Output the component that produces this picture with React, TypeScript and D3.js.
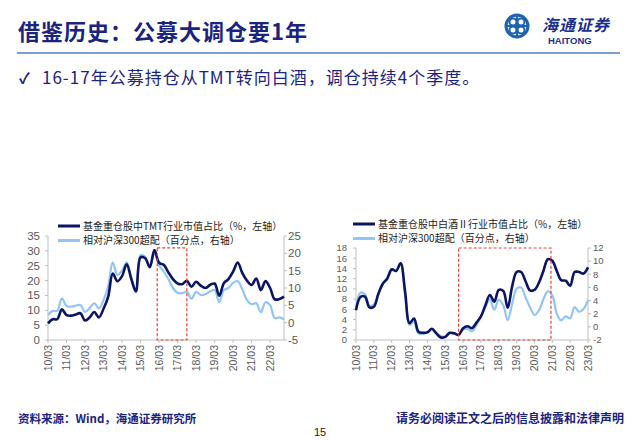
import React from "react";
import * as d3 from "d3";

// ---------- DATA ----------
const tmtYearLabels = ["10/03","11/03","12/03","13/03","14/03","15/03","16/03","17/03","18/03","19/03","20/03","21/03","22/03"];
const tmtShare = [5.6,7.0,7.0,10.3,8.4,8.2,8.6,9.0,6.6,7.6,9.4,7.6,10.5,14.5,22.4,19.8,21.5,25.5,20.5,16.3,27.8,27.5,24.5,30.3,26.0,25.3,22.8,20.5,19.0,18.8,19.9,17.9,19.6,18.3,17.5,18.5,19.0,14.9,19.1,20.5,23.0,26.1,22.5,20.0,18.5,20.7,16.8,19.8,17.5,13.7,13.8,14.6];
const tmtOver = [2.2,3.4,3.4,7.0,4.8,4.6,4.9,5.1,3.1,4.2,5.6,4.1,6.5,10.5,17.4,13.8,15.0,17.4,13.0,9.4,19.5,19.0,16.3,20.0,16.5,14.8,12.6,10.0,8.6,8.5,8.9,6.9,8.9,8.0,8.2,9.0,9.4,5.9,9.4,10.0,11.5,12.0,9.6,6.5,5.3,5.6,3.0,5.9,5.0,1.3,1.5,1.0];
const tmtLeftTicks = [0,5,10,15,20,25,30,35];
const tmtRightTicks = [-5,0,5,10,15,20,25];

const liqYearLabels = ["10/03","11/03","12/03","13/03","14/03","15/03","16/03","17/03","18/03","19/03","20/03","21/03","22/03","23/03"];
const liqShare = [5.8,8.4,8.5,6.4,6.5,9.0,11.0,12.0,13.8,13.5,15.0,9.5,3.3,4.2,1.6,1.4,1.5,2.2,1.3,0.5,0.6,1.4,1.3,1.0,2.3,2.7,2.3,3.4,4.6,6.8,8.8,7.5,9.8,9.6,6.3,10.5,13.3,13.3,11.5,9.7,9.8,11.2,13.5,15.8,15.5,13.5,11.7,11.6,10.6,13.3,13.3,13.0,14.2];
const liqOver = [2.8,5.2,5.0,3.2,3.4,5.0,6.5,7.5,8.8,8.6,9.7,5.0,0.3,0.8,-1.0,-1.0,-0.8,-0.4,-0.9,-1.4,-1.5,-1.0,-1.0,-1.2,-0.4,-0.3,-0.7,0.3,1.5,3.0,4.2,2.6,4.1,3.3,1.0,3.5,5.8,6.0,4.5,3.0,1.8,2.5,4.2,5.4,4.8,2.0,1.0,1.6,1.3,3.0,2.3,2.7,4.1];
const liqLeftTicks = [0,2,4,6,8,10,12,14,16,18];
const liqRightTicks = [-2,0,2,4,6,8,10,12];

const tmtLegend = ["基金重仓股中TMT行业市值占比（%，左轴）", "相对沪深300超配（百分点，右轴）"];
const liqLegend = ["基金重仓股中白酒Ⅱ行业市值占比（%，左轴）", "相对沪深300超配（百分点，右轴）"];

const NAVY = "#0c1464";
const LIGHT = "#93c5f2";
const AXIS = "#bfbfbf";
const TICKTXT = "#595959";
const CJK = "'Noto Sans CJK SC', 'Liberation Sans', sans-serif";
const ARIAL = "'Liberation Sans', Arial, sans-serif";

type ChartProps = {
  x0: number; x1: number; yTop: number; yBot: number;
  labels: string[]; share: number[]; over: number[];
  leftTicks: number[]; rightTicks: number[];
  box: [number, number, number];
  legend: string[]; legX: number; legY: number; legGap: number;
  leftLabelX: number; rightLabelX: number; tickFont: number;
};

function Chart(p: ChartProps) {
  const n = p.share.length;
  const x = d3.scaleLinear().domain([0, n - 1]).range([p.x0, p.x1]);
  const yL = d3.scaleLinear().domain([p.leftTicks[0], p.leftTicks[p.leftTicks.length - 1]]).range([p.yBot, p.yTop]);
  const yR = d3.scaleLinear().domain([p.rightTicks[0], p.rightTicks[p.rightTicks.length - 1]]).range([p.yBot, p.yTop]);
  const lineL = d3.line<number>().x((_, i) => x(i)).y(d => yL(d)).curve(d3.curveCatmullRom.alpha(0.5));
  const lineR = d3.line<number>().x((_, i) => x(i)).y(d => yR(d)).curve(d3.curveCatmullRom.alpha(0.5));
  const bx0 = x(p.box[0]), bx1 = x(p.box[1]), by = yL(p.box[2]);
  const off = p.tickFont * 0.35;
  return (
    <g>
      <line x1={p.x0} x2={p.x0} y1={p.yTop} y2={p.yBot} stroke={AXIS} />
      <line x1={p.x1} x2={p.x1} y1={p.yTop} y2={p.yBot} stroke={AXIS} />
      <line x1={p.x0} x2={p.x1} y1={p.yBot} y2={p.yBot} stroke={AXIS} />
      {p.leftTicks.map(t => (
        <g key={"l" + t}>
          <line x1={p.x0 - 3} x2={p.x0} y1={yL(t)} y2={yL(t)} stroke={AXIS} />
          <text x={p.leftLabelX} y={yL(t) + off} textAnchor="end" fontSize={p.tickFont} fill={TICKTXT} fontFamily={ARIAL}>{t}</text>
        </g>
      ))}
      {p.rightTicks.map(t => (
        <g key={"r" + t}>
          <line x1={p.x1} x2={p.x1 + 3} y1={yR(t)} y2={yR(t)} stroke={AXIS} />
          <text x={p.rightLabelX} y={yR(t) + off} textAnchor="start" fontSize={p.tickFont} fill={TICKTXT} fontFamily={ARIAL}>{t < 0 ? "-" + Math.abs(t) : t}</text>
        </g>
      ))}
      {p.labels.map((lab, k) => {
        const xi = x(k * 4);
        return (
          <g key={lab}>
            <line x1={xi} x2={xi} y1={p.yBot} y2={p.yBot + 3} stroke={AXIS} />
            <text transform={`translate(${xi + 3.5},${p.yBot + 5}) rotate(-90)`} textAnchor="end" fontSize={10.5} fill={TICKTXT} fontFamily={ARIAL}>{lab}</text>
          </g>
        );
      })}
      <path d={lineR(p.over) || ""} fill="none" stroke={LIGHT} strokeWidth={2.2} />
      <path d={lineL(p.share) || ""} fill="none" stroke={NAVY} strokeWidth={2.6} />
      <rect x={bx0} y={by} width={bx1 - bx0} height={p.yBot - by} fill="none" stroke="#e8403a" strokeWidth={1.2} strokeDasharray="3,2" />
      <line x1={p.legX} x2={p.legX + 22} y1={p.legY} y2={p.legY} stroke={NAVY} strokeWidth={3} />
      <text x={p.legX + 25} y={p.legY + 3.5} fontSize={10} fill="#222" fontFamily={CJK}>{p.legend[0]}</text>
      <line x1={p.legX} x2={p.legX + 22} y1={p.legY + p.legGap} y2={p.legY + p.legGap} stroke={LIGHT} strokeWidth={3} />
      <text x={p.legX + 25} y={p.legY + p.legGap + 3.5} fontSize={10} fill="#222" fontFamily={CJK}>{p.legend[1]}</text>
    </g>
  );
}

function Logo() {
  const cx = 517, cy = 26, r = 11;
  const c = "#1f63b0";
  return (
    <g>
      <circle cx={cx} cy={cy} r={r} fill="none" stroke={c} strokeWidth={3} />
      <circle cx={cx - 4} cy={cy - 4} r={3.5} fill="none" stroke={c} strokeWidth={2} />
      <circle cx={cx + 4} cy={cy - 4} r={3.5} fill="none" stroke={c} strokeWidth={2} />
      <circle cx={cx - 4} cy={cy + 4} r={3.5} fill="none" stroke={c} strokeWidth={2} />
      <circle cx={cx + 4} cy={cy + 4} r={3.5} fill="none" stroke={c} strokeWidth={2} />
      <line x1={cx - 11} x2={cx + 11} y1={cy} y2={cy} stroke={c} strokeWidth={2.2} />
      <line x1={cx} x2={cx} y1={cy - 11} y2={cy + 11} stroke={c} strokeWidth={2.2} />
      <text x={542} y={31} fontSize={16} fontStyle="italic" fontWeight="bold" fill="#1a2f8a" fontFamily={CJK} letterSpacing={1}>海通证券</text>
      <text x={548} y={44} fontSize={9.5} fontWeight="bold" fill="#1a2f8a" fontFamily={ARIAL}>HAITONG</text>
    </g>
  );
}

export default function App() {
  return (
    <svg width={640} height={441} style={{ position: "absolute", left: 0, top: 0, background: "#fff" }}>
      <rect width={640} height={441} fill="#fff" />
      <text x={18} y={40} fontSize={22} fontWeight="bold" fill="#1a237e" fontFamily={CJK} letterSpacing={1}>借鉴历史：公募大调仓要1年</text>
      <Logo />
      <line x1={17} x2={620} y1={53} y2={53} stroke="#4a7fc0" strokeWidth={1.5} />
      <text x={19} y={84} fontSize={15} fontWeight="bold" fill="#1a237e" fontFamily={CJK}>✓</text>
      <text x={42} y={84} fontSize={17} fill="#1a237e" fontFamily={CJK} letterSpacing={1}>16-17年公募持仓从TMT转向白酒，调仓持续4个季度。</text>

      <Chart x0={48} x1={284} yTop={236} yBot={340} labels={tmtYearLabels} share={tmtShare} over={tmtOver}
        leftTicks={tmtLeftTicks} rightTicks={tmtRightTicks} box={[23.6, 30, 31]}
        legend={tmtLegend} legX={58} legY={226} legGap={14.5} leftLabelX={40} rightLabelX={288} tickFont={11.5} />
      <Chart x0={356} x1={588} yTop={248} yBot={340} labels={liqYearLabels} share={liqShare} over={liqOver}
        leftTicks={liqLeftTicks} rightTicks={liqRightTicks} box={[23, 43.7, 18]}
        legend={liqLegend} legX={353} legY={224} legGap={14.5} leftLabelX={347} rightLabelX={593} tickFont={9.5} />

      <text x={18} y={423} fontSize={11.5} fontWeight="bold" fill="#1a237e" fontFamily={CJK}>资料来源：Wind，海通证券研究所</text>
      <text x={320} y={436} fontSize={11} textAnchor="middle" fill="#222" fontFamily={ARIAL}>15</text>
      <text x={624} y={423} fontSize={12} fontWeight="bold" textAnchor="end" fill="#1a237e" fontFamily={CJK}>请务必阅读正文之后的信息披露和法律声明</text>
    </svg>
  );
}
